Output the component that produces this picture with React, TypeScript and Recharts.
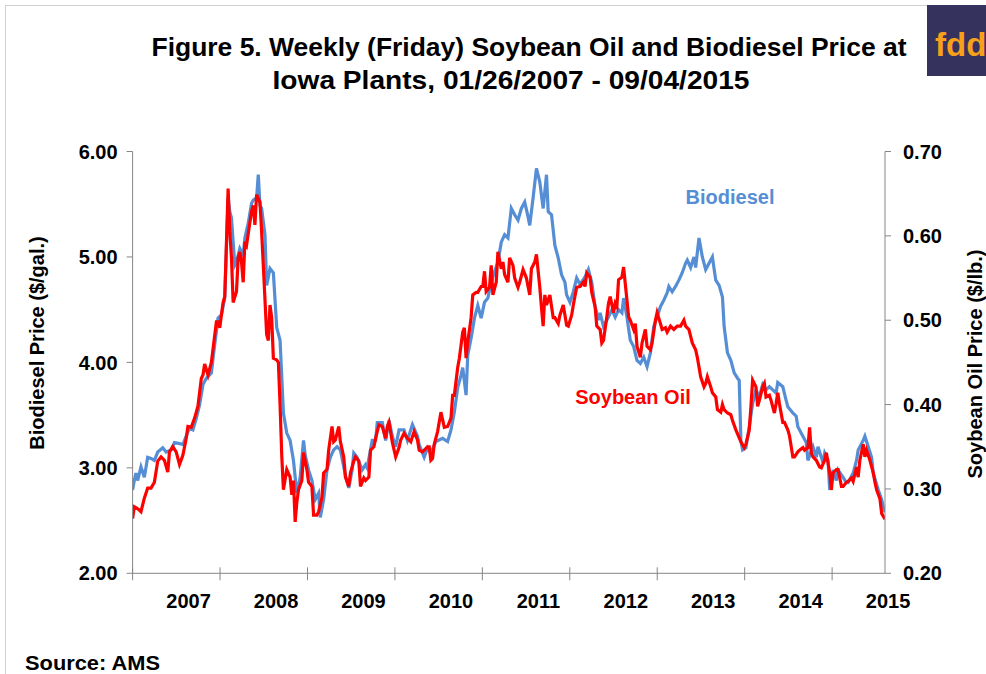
import { LineChart, Line, XAxis, YAxis } from 'recharts'

// weekly (Friday) prices, week 0 = 01/26/2007
const yearLabels = ['2007', '2008', '2009', '2010', '2011', '2012', '2013', '2014', '2015']
const weeksPerYear = 52.18
const lastWeek = 449

const bioTicks = [2, 3, 4, 5, 6]
const soyTicks = [0.2, 0.3, 0.4, 0.5, 0.6, 0.7]

// [week, $/gal]
const biodiesel: [number, number][] = [
  [0, 2.79], [1, 2.88], [2, 2.95], [3, 2.88], [5, 3.01], [7, 2.91], [9, 3.1], [11, 3.09], [13, 3.07], [15, 3.15],
  [18, 3.19], [20, 3.15], [23, 3.17], [25, 3.24], [28, 3.23], [30, 3.22], [32, 3.3], [34, 3.38], [36, 3.36], [38, 3.47],
  [40, 3.6], [42, 3.79], [44, 3.85], [47, 3.9], [49, 4.17], [51, 4.42], [53, 4.45], [55, 4.61], [57, 5.56], [58, 5.43],
  [59, 5.37], [61, 4.92], [62, 4.95], [64, 5.08], [66, 5.02], [67, 5.18], [69, 5.32], [71, 5.51], [72, 5.54], [74, 5.56],
  [75, 5.78], [76, 5.49], [77, 5.46], [79, 5.21], [80, 4.73], [82, 4.89], [84, 4.85], [86, 4.33], [88, 4.21], [90, 3.52],
  [92, 3.33], [94, 3.26], [96, 3.07], [98, 2.76], [100, 2.91], [102, 3.26], [103, 3.12], [105, 2.98], [107, 2.88], [109, 2.7],
  [111, 2.76], [112, 2.53], [114, 2.7], [116, 2.98], [118, 3.1], [120, 3.17], [122, 3.2], [124, 3.17], [127, 2.93], [129, 2.81],
  [131, 2.98], [132, 3.14], [134, 3.1], [137, 2.98], [139, 3.03], [140, 3.0], [143, 3.26], [145, 3.26], [146, 3.43], [149, 3.43],
  [151, 3.26], [153, 3.45], [155, 3.3], [157, 3.2], [159, 3.36], [162, 3.36], [164, 3.26], [167, 3.41], [170, 3.3], [171, 3.22],
  [174, 3.1], [176, 3.19], [178, 3.14], [181, 3.25], [185, 3.28], [188, 3.25], [190, 3.36], [192, 3.53], [194, 3.76], [196, 3.88],
  [197, 3.95], [199, 3.69], [200, 4.07], [202, 4.23], [204, 4.42], [206, 4.54], [208, 4.42], [210, 4.57], [212, 4.61], [214, 4.76],
  [216, 4.86], [218, 4.95], [220, 5.14], [222, 5.21], [224, 5.18], [226, 5.46], [228, 5.4], [230, 5.35], [232, 5.46], [234, 5.52],
  [236, 5.38], [237, 5.3], [239, 5.56], [241, 5.84], [243, 5.71], [245, 5.46], [247, 5.78], [248, 5.43], [250, 5.4], [252, 5.11],
  [254, 4.99], [256, 4.83], [258, 4.76], [259, 4.64], [261, 4.57], [263, 4.67], [265, 4.8], [267, 4.74], [270, 4.81], [272, 4.88],
  [274, 4.76], [276, 4.53], [278, 4.4], [279, 4.47], [281, 4.34], [283, 4.4], [286, 4.5], [288, 4.43], [290, 4.5], [292, 4.47],
  [293, 4.61], [295, 4.43], [297, 4.21], [299, 4.15], [301, 4.02], [303, 3.99], [305, 4.05], [307, 3.96], [309, 4.09], [311, 4.34],
  [313, 4.43], [315, 4.53], [317, 4.59], [319, 4.66], [320, 4.72], [322, 4.67], [324, 4.72], [326, 4.78], [328, 4.85], [330, 4.94],
  [331, 4.97], [333, 4.9], [335, 5.0], [336, 4.9], [338, 5.18], [340, 5.0], [342, 4.88], [344, 4.94], [346, 5.0], [348, 4.78],
  [350, 4.73], [352, 4.62], [353, 4.34], [355, 4.09], [357, 4.02], [359, 3.9], [361, 3.85], [362, 3.83], [363, 3.26], [364, 3.17],
  [366, 3.19], [368, 3.39], [370, 3.61], [372, 3.74], [374, 3.67], [376, 3.79], [378, 3.74], [380, 3.77], [382, 3.74], [384, 3.71],
  [385, 3.81], [388, 3.77], [390, 3.64], [391, 3.58], [394, 3.52], [396, 3.49], [397, 3.39], [400, 3.3], [402, 3.24], [403, 3.07],
  [406, 3.2], [408, 3.1], [409, 3.2], [412, 3.05], [413, 3.14], [415, 3.07], [416, 2.79], [418, 2.98], [420, 2.88], [421, 2.98],
  [424, 2.91], [426, 2.86], [427, 2.86], [430, 2.95], [432, 3.07], [433, 3.17], [436, 3.26], [437, 3.3], [439, 3.2], [441, 3.1],
  [442, 2.95], [445, 2.79], [447, 2.7], [448, 2.63], [449, 2.58],
]

// [week, $/lb]
const soybeanOil: [number, number][] = [
  [0, 0.265], [1, 0.279], [2, 0.278], [4, 0.275], [5, 0.273], [7, 0.289], [9, 0.301], [11, 0.301], [13, 0.308], [15, 0.333],
  [17, 0.338], [19, 0.334], [21, 0.32], [22, 0.344], [24, 0.35], [26, 0.344], [28, 0.329], [30, 0.34], [32, 0.36], [33, 0.374],
  [35, 0.373], [37, 0.384], [39, 0.398], [41, 0.431], [42, 0.435], [43, 0.448], [45, 0.435], [47, 0.45], [50, 0.498], [51, 0.498],
  [52, 0.491], [54, 0.521], [55, 0.528], [57, 0.656], [58, 0.605], [59, 0.574], [60, 0.521], [62, 0.534], [63, 0.574], [64, 0.581],
  [65, 0.569], [66, 0.545], [67, 0.593], [68, 0.589], [70, 0.616], [71, 0.629], [72, 0.636], [73, 0.613], [74, 0.649], [76, 0.64],
  [77, 0.605], [78, 0.565], [80, 0.483], [81, 0.476], [82, 0.518], [83, 0.503], [84, 0.455], [86, 0.453], [87, 0.45], [88, 0.4],
  [89, 0.34], [90, 0.299], [92, 0.323], [94, 0.314], [95, 0.293], [96, 0.31], [97, 0.261], [98, 0.284], [99, 0.299], [101, 0.31],
  [102, 0.343], [104, 0.323], [105, 0.308], [107, 0.303], [108, 0.269], [110, 0.269], [111, 0.273], [113, 0.29], [114, 0.319], [116, 0.323],
  [117, 0.346], [119, 0.374], [120, 0.356], [121, 0.358], [123, 0.374], [124, 0.356], [126, 0.338], [127, 0.314], [129, 0.303], [130, 0.319],
  [132, 0.333], [133, 0.338], [135, 0.333], [136, 0.303], [138, 0.313], [139, 0.31], [141, 0.314], [142, 0.346], [144, 0.35], [145, 0.36],
  [147, 0.376], [149, 0.374], [151, 0.36], [152, 0.374], [153, 0.379], [155, 0.355], [157, 0.338], [159, 0.349], [160, 0.358], [162, 0.366],
  [164, 0.36], [166, 0.356], [168, 0.368], [170, 0.358], [171, 0.346], [173, 0.344], [176, 0.35], [177, 0.35], [178, 0.334], [179, 0.336],
  [180, 0.353], [182, 0.368], [184, 0.391], [186, 0.373], [188, 0.374], [190, 0.384], [191, 0.411], [192, 0.411], [194, 0.444], [195, 0.455],
  [197, 0.486], [198, 0.491], [199, 0.455], [200, 0.474], [202, 0.503], [203, 0.53], [205, 0.533], [206, 0.533], [208, 0.54], [209, 0.54],
  [210, 0.558], [211, 0.534], [213, 0.539], [214, 0.565], [215, 0.53], [217, 0.545], [218, 0.581], [220, 0.561], [221, 0.569], [222, 0.554],
  [224, 0.545], [225, 0.574], [227, 0.565], [228, 0.55], [230, 0.539], [231, 0.545], [233, 0.56], [235, 0.55], [237, 0.53], [238, 0.561],
  [240, 0.569], [241, 0.578], [243, 0.539], [244, 0.515], [245, 0.493], [246, 0.53], [247, 0.518], [249, 0.53], [251, 0.503], [252, 0.503],
  [254, 0.496], [255, 0.506], [257, 0.518], [259, 0.494], [260, 0.493], [262, 0.506], [263, 0.518], [265, 0.539], [267, 0.54], [269, 0.545],
  [270, 0.54], [271, 0.556], [273, 0.551], [274, 0.533], [276, 0.516], [277, 0.493], [279, 0.489], [280, 0.473], [281, 0.476], [283, 0.504],
  [284, 0.52], [285, 0.528], [287, 0.509], [288, 0.52], [289, 0.516], [290, 0.548], [292, 0.551], [293, 0.563], [295, 0.524], [296, 0.504],
  [297, 0.5], [299, 0.489], [300, 0.496], [301, 0.469], [303, 0.456], [304, 0.473], [306, 0.489], [307, 0.469], [309, 0.465], [310, 0.473],
  [312, 0.5], [313, 0.509], [315, 0.496], [316, 0.489], [318, 0.491], [319, 0.486], [321, 0.493], [323, 0.489], [325, 0.493], [327, 0.493],
  [329, 0.5], [330, 0.493], [332, 0.489], [334, 0.473], [336, 0.465], [337, 0.456], [339, 0.433], [341, 0.421], [342, 0.425], [343, 0.433],
  [345, 0.421], [346, 0.414], [348, 0.409], [349, 0.394], [351, 0.391], [352, 0.4], [353, 0.394], [355, 0.39], [357, 0.388], [358, 0.381],
  [360, 0.37], [363, 0.356], [365, 0.349], [366, 0.353], [368, 0.37], [369, 0.398], [370, 0.429], [372, 0.421], [373, 0.398], [374, 0.405],
  [376, 0.421], [377, 0.425], [378, 0.409], [380, 0.411], [381, 0.405], [383, 0.39], [384, 0.401], [385, 0.414], [386, 0.401], [388, 0.379],
  [389, 0.379], [391, 0.37], [392, 0.363], [394, 0.338], [395, 0.338], [397, 0.344], [398, 0.346], [400, 0.349], [401, 0.346], [403, 0.349],
  [404, 0.373], [405, 0.343], [406, 0.338], [408, 0.334], [410, 0.326], [411, 0.325], [413, 0.334], [414, 0.343], [416, 0.319], [417, 0.299],
  [418, 0.319], [420, 0.323], [421, 0.323], [423, 0.303], [424, 0.303], [426, 0.308], [427, 0.309], [429, 0.313], [430, 0.309], [432, 0.326],
  [433, 0.314], [434, 0.334], [436, 0.353], [437, 0.338], [438, 0.346], [440, 0.334], [442, 0.319], [443, 0.308], [444, 0.299], [446, 0.288],
  [447, 0.271], [449, 0.264],
]

const bioData = biodiesel.map(([week, price]) => ({ week, price }))
const soyData = soybeanOil.map(([week, price]) => ({ week, price }))
const yearTicks = yearLabels.map((_, i) => i * weeksPerYear)

const FONT = '"Liberation Sans", Arial, sans-serif'
const NARROW = '"Liberation Sans Narrow", ' + FONT
const AXIS = '#868686'
const BLUE = '#558ed5'
const RED = '#ff0000'

const YearTick = (props: any) => {
  const { x, y, payload } = props
  const i = Math.round(payload.value / weeksPerYear)
  return (
    <g>
      <line x1={x} x2={x} y1={y - 6} y2={y + 7} stroke={AXIS} />
      <text x={x + 56} y={y + 35} textAnchor="middle" fontFamily={FONT} fontWeight="bold" fontSize={20} fill="#000">
        {yearLabels[i]}
      </text>
    </g>
  )
}

const tickStyle = { fontFamily: FONT, fontWeight: 'bold', fontSize: 20, fill: '#000' }

export default function App() {
  return (
    <div style={{ position: 'absolute', left: 0, top: 0, width: 986, height: 674, overflow: 'hidden', background: '#fff' }}>
      <LineChart width={986} height={674} margin={{ top: 151.5, right: 41, bottom: 60.7, left: 62.6 }}>
        <XAxis
          dataKey="week"
          type="number"
          domain={[0, lastWeek]}
          ticks={yearTicks}
          interval={0}
          tick={<YearTick />}
          tickLine={false}
          tickSize={0}
          tickMargin={0}
          height={40}
          axisLine={{ stroke: AXIS }}
          allowDataOverflow
        />
        <YAxis
          yAxisId="bio"
          domain={[2, 6]}
          ticks={bioTicks}
          tickFormatter={(v: number) => v.toFixed(2)}
          width={70}
          tickSize={6}
          tickMargin={9}
          tick={tickStyle}
          axisLine={{ stroke: AXIS }}
          tickLine={{ stroke: AXIS }}
        />
        <YAxis
          yAxisId="soy"
          orientation="right"
          domain={[0.2, 0.7]}
          ticks={soyTicks}
          tickFormatter={(v: number) => v.toFixed(2)}
          width={60}
          tickSize={6}
          tickMargin={12}
          tick={tickStyle}
          axisLine={{ stroke: AXIS }}
          tickLine={{ stroke: AXIS }}
        />
        <Line
          yAxisId="bio"
          data={bioData}
          dataKey="price"
          type="linear"
          stroke={BLUE}
          strokeWidth={3.2}
          dot={false}
          isAnimationActive={false}
        />
        <Line
          yAxisId="soy"
          data={soyData}
          dataKey="price"
          type="linear"
          stroke={RED}
          strokeWidth={3.2}
          dot={false}
          isAnimationActive={false}
        />
      </LineChart>
      <svg width={986} height={674} style={{ position: 'absolute', left: 0, top: 0, pointerEvents: 'none' }}>
        <rect x={5.5} y={5.5} width={1000} height={1000} fill="none" stroke="#d0d0d0" />
        <g fontFamily={NARROW} fontWeight="bold" fontSize={26} fill="#000" textAnchor="middle">
          <text x={529} y={56} textLength={755} lengthAdjust="spacingAndGlyphs">
            Figure 5. Weekly (Friday) Soybean Oil and Biodiesel Price at
          </text>
          <text x={511} y={89} textLength={477} lengthAdjust="spacingAndGlyphs">
            Iowa Plants, 01/26/2007 - 09/04/2015
          </text>
        </g>
        <rect x={927} y={5} width={59} height={71} fill="#35325e" />
        <text x={935} y={56} fontFamily={FONT} fontWeight="bold" fontSize={33} fill="#f7a11a">
          fdd
        </text>
        <g fontFamily={FONT} fontWeight="bold" fontSize={20}>
          <text x={37} y={343} transform="rotate(-90 37 343)" textAnchor="middle" dominantBaseline="central" fill="#000">
            Biodiesel Price ($/gal.)
          </text>
          <text x={975} y={364} transform="rotate(-90 975 364)" textAnchor="middle" dominantBaseline="central" fill="#000">
            Soybean Oil Price ($/lb.)
          </text>
          <text x={730} y={204} textAnchor="middle" fill={BLUE}>
            Biodiesel
          </text>
          <text x={633} y={404} textAnchor="middle" fill={RED}>
            Soybean Oil
          </text>
        </g>
        <text x={25} y={670} fontFamily={NARROW} fontWeight="bold" fontSize={21} textLength={135} lengthAdjust="spacingAndGlyphs" fill="#000">
          Source: AMS
        </text>
      </svg>
    </div>
  )
}
